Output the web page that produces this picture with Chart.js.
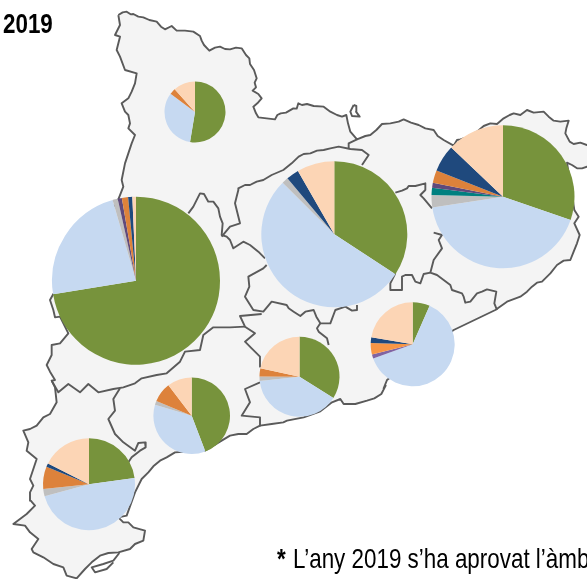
<!DOCTYPE html>
<html><head><meta charset="utf-8">
<script src="https://cdn.jsdelivr.net/npm/chart.js@4"></script>
<style>
html,body{margin:0;padding:0;background:#fff;width:587px;height:579px;overflow:hidden}
#wrap{position:relative;width:587px;height:579px;overflow:hidden}
canvas{position:absolute;display:block}
.t{position:absolute;font-family:"Liberation Sans",Arial,sans-serif;font-size:28px;line-height:32px;color:#000;white-space:nowrap;transform:scaleX(.8);transform-origin:left top}
</style></head><body>
<div id="wrap">
<canvas id="map" width="587" height="579" style="left:0;top:0"></canvas>
<div class="t" style="left:3px;top:8px;font-weight:bold">2019</div>
<div class="t" style="left:277px;top:543px;font-weight:bold">*</div>
<div class="t" style="left:293px;top:543px">L’any 2019 s’ha aprovat l’àmb</div>
</div>
<script>
// Slice categories, clockwise from 12 o'clock
const categories = ["A","B","C","D","E","F","G","H"];
const colours = ["#77933c","#c6d9f1","#bfbfbf","#008080","#604a7b","#dd823b","#1f497d","#fcd5b5"];
const coloursMetro = ["#77933c","#c6d9f1","#bfbfbf","#008080","#8064a2","#f79646","#1f497d","#fcd5b5"];

// Percent shares
const altPirineu   = [52.6,32.6,0,0,0,3.2,0,11.6];
const ponent       = [72.4,23.1,1.0,0,0.8,1.2,0.8,0.7];
const centrals     = [34.2,53.3,1.4,0,0,0,2.8,8.3];
const gironines    = [30.3,42.3,2.8,1.6,1.1,2.9,6.1,12.9];
const penedes      = [33.9,39.4,1.8,0,0,3.3,0,21.6];
const metropolita  = [6.6,62.9,0,0,1.6,4.4,2.2,22.3];
const campTarragona= [44.2,35.4,1.7,0,0,8.3,0,10.4];
const terresEbre   = [22.8,48.0,2.6,0,0,7.8,1.3,17.5];

// Base map, traced in zoom-crop units (crop origin + 3x units)
const Z1=[0,0],Z2=[287,0],Z3=[0,190],Z4=[287,190],Z5=[0,379],Z6=[287,379];
function tr(o,f){const r=[];for(let i=0;i<f.length;i+=2)r.push({x:o[0]+f[i]/3,y:o[1]+f[i+1]/3});return r;}
const outer=[].concat(
 tr(Z1,[355,45,368,37,380,35,392,43,400,42,415,50,430,52,448,60,470,65,483,80,495,88,515,78,530,92,555,92,580,95,600,108,605,122,612,135,628,152,645,143,660,140,675,147,690,148,708,143,725,145,738,165,748,175,750,192,762,210,770,235,764,248,768,262,758,272,775,282,785,295,772,310,760,320,768,340,775,352,800,355,825,358,832,345,842,340,858,338,880,325,890,326,895,310]),
 tr(Z2,[45,315,60,312,80,318,110,320,130,335,150,345,165,350,178,345,183,370,190,395,210,418,235,408,250,405,268,390,285,372,310,370,335,365,350,358,372,368,395,375,415,385,440,390,452,408,470,420,500,437,510,420,520,418,545,410,570,395,590,378,610,370,630,372,650,355,668,345,680,340,700,345,720,330,740,338,770,335,785,350,800,362,820,365,845,362,838,385,835,400,848,425,860,432,880,428,900,435,930,440,930,505,900,500,885,505,870,505,855,495,840,488]),
 tr(Z4,[862,60,875,80,862,100,878,135,870,160,860,185,850,210,830,212,810,225,790,250,765,275,750,278,735,290,720,305,700,320,660,335,625,360,500,420,300,570,290,595]),
 tr(Z6,[296,20,283,45,262,58,240,65,205,75,170,75,160,60,135,70,100,97,50,115,0,125]),
 tr(Z5,[850,130,815,135,780,140,760,150,740,165,715,165,690,170,615,215,525,220,500,235,480,245,460,262,445,280,425,300,405,340,380,410,355,415,370,430,385,430,400,445,435,455,430,485,405,495,390,510,355,520,325,522,300,530,275,550,255,570,230,598,200,590,190,565,160,555,130,535,100,520,95,510,115,480,90,460,75,440,40,435,60,420,80,405,105,380,92,365,90,340,100,320,90,300,110,240,80,215,85,190,70,155,90,150,110,140,130,115,150,105,170,70,165,25,155,5]),
 tr(Z3,[165,570,150,545,140,525,155,495,155,465,180,460,205,430,180,380,165,382,160,360,150,330,160,312]),
 tr(Z1,[355,598,370,560,365,540,375,490,385,460,395,430,405,405,385,385,390,370,385,345,375,335,365,310,385,295,395,275,405,250,410,220,375,210,360,170,350,150,360,110,345,105,360,75,355,45])
);
const borders=[
 [].concat(tr(Z3,[665,140,690,110,720,100,705,40,715,0]),tr(Z1,[715,565,735,555,750,555,770,545,790,540,815,525,850,510,875,490]),tr(Z2,[35,470,50,462,70,460,90,452,110,450,130,445,155,440,190,447,225,450,245,465,225,495])),
 tr(Z2,[185,445,185,430,210,418]),
 tr(Z3,[565,70,580,50,600,10,612,12,625,35,640,35,655,55,660,80,668,100,665,135,680,140,690,150,700,175,730,155,750,165,775,185,795,205]),
 [].concat(tr(Z2,[325,578,345,572,360,565,365,558,385,558,415,550,415,570,400,585]),tr(Z4,[410,25,435,55])),
 tr(Z4,[440,128,465,135,455,150,465,175,440,210,430,248,450,255,470,270,490,285,495,300,525,310,530,320,535,338,550,335,570,310,585,305,600,298,628,305,622,340,630,360]),
 tr(Z4,[430,248,410,252,400,280,385,275,375,255,355,255,345,260,345,300,310,300,310,280,325,250]),
 [].concat(tr(Z3,[800,225,790,235,745,260,748,290,735,320,760,360,790,365,815,335,860,345]),tr(Z4,[5,355,20,365,40,378,55,365,80,360,88,380,100,400,130,400,145,360,175,350,195,362,210,360,210,345])),
 tr(Z4,[100,400,90,415,95,425,120,445,125,465]),
 tr(Z3,[785,372,720,378,735,410,765,430,735,455,755,475,780,500,780,530]),
 [].concat(tr(Z3,[735,410,690,412,640,412,610,435,600,480,555,485,540,515,500,550,470,555,425,565,405,580,370,592]),tr(Z5,[340,30,295,40,265,15,240,40,205,15,175,40,155,5])),
 tr(Z5,[360,28,340,60,345,95,325,120,345,165,370,190,405,215,415,192,435,190,437,205,420,215,395,235,385,250]),
 tr(Z5,[780,10,735,30,750,70,725,110,780,115,780,140]),
 tr(Z5,[358,522,340,545,310,555,275,565,285,580,320,570,340,550]),
 tr(Z2,[200,315,190,335,195,348,218,350,207,335,208,318,200,315])
];
const landFill={id:'landFill',beforeDatasetsDraw(c){
  const x=c.scales.x,y=c.scales.y,g=c.ctx;g.save();g.beginPath();
  outer.forEach((p,i)=>{const a=x.getPixelForValue(p.x),b=y.getPixelForValue(p.y);i?g.lineTo(a,b):g.moveTo(a,b);});
  g.closePath();g.fillStyle='#f4f4f4';g.fill();g.restore();}};
const line=d=>({data:d,showLine:true,borderColor:'#5a5a5a',borderWidth:1.9,pointRadius:0,fill:false,tension:0,borderJoinStyle:'round'});
new Chart(document.getElementById('map'),{type:'scatter',plugins:[landFill],
 data:{datasets:[line(outer.concat([outer[0]]))].concat(borders.map(line))},
 options:{responsive:false,animation:false,events:[],layout:{padding:0},
  plugins:{legend:{display:false},tooltip:{enabled:false}},
  scales:{x:{type:'linear',min:0,max:587,display:false},y:{type:'linear',min:0,max:579,reverse:true,display:false}}}});

// Pie placement on the map: [values, centre x, centre y, radius, colours]
const pies=[
 [altPirineu,195,112,30.5,colours],
 [ponent,136,280.7,84,colours],
 [centrals,334.3,234.3,73,colours],
 [gironines,503,196.7,71.5,colours],
 [penedes,299.5,376.7,40,colours],
 [metropolita,412.7,344.3,42,coloursMetro],
 [campTarragona,191.7,415.7,38.3,colours],
 [terresEbre,89,484.3,46,colours]
];
const wrap=document.getElementById('wrap');
pies.forEach(([vals,cx,cy,r,cols])=>{
  const S=Math.ceil(2*r)+2, cv=document.createElement('canvas');
  const L=Math.round(cx-S/2), T=Math.round(cy-S/2);
  cv.width=S;cv.height=S;cv.style.left=L+'px';cv.style.top=T+'px';
  wrap.insertBefore(cv,wrap.querySelector('.t'));
  const pl=cx-r-L, pt=cy-r-T;
  new Chart(cv,{type:'pie',data:{labels:categories,datasets:[{data:vals,backgroundColor:cols,borderWidth:0}]},
   options:{responsive:false,animation:false,events:[],
    layout:{padding:{left:pl,top:pt,right:S-pl-2*r,bottom:S-pt-2*r}},
    plugins:{legend:{display:false},tooltip:{enabled:false}}}});
});
</script>
</body></html>
